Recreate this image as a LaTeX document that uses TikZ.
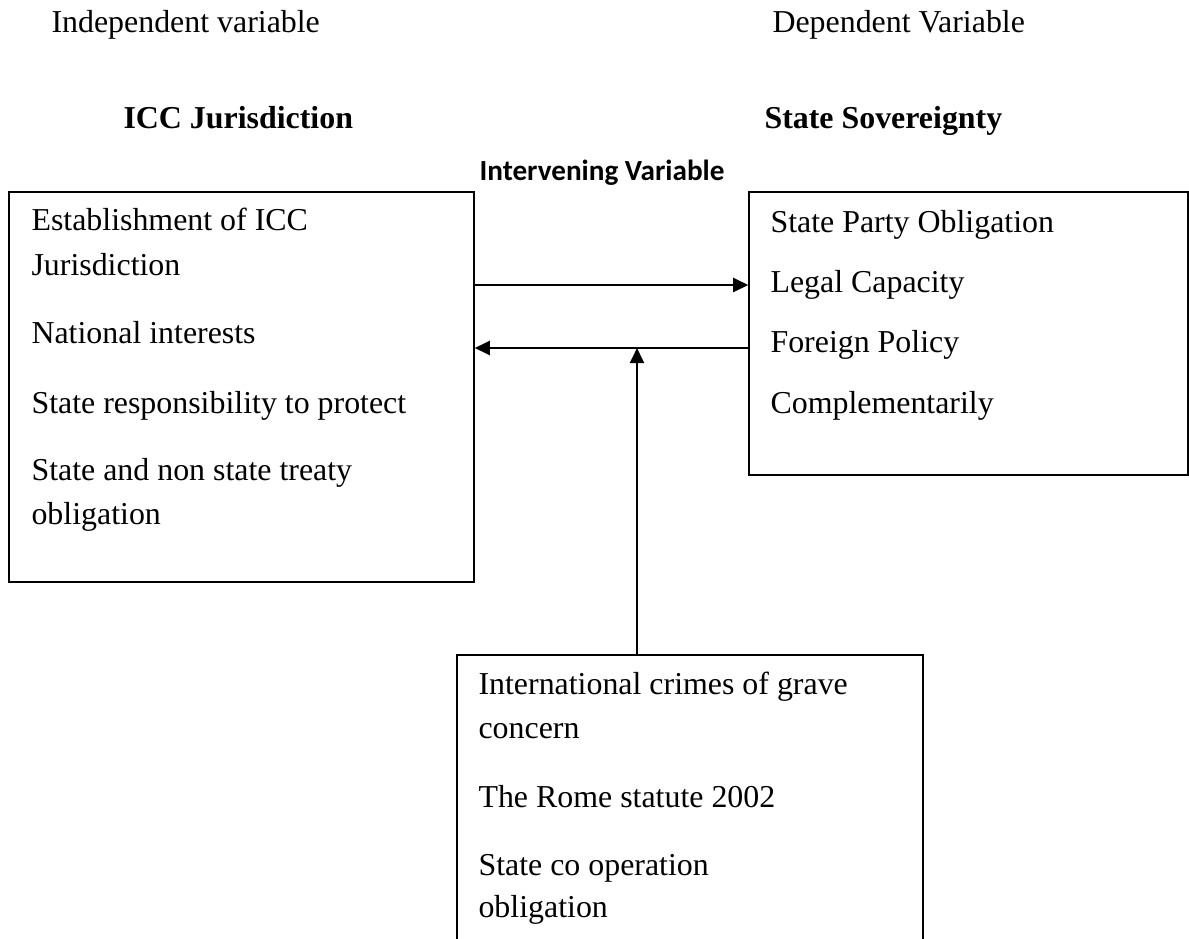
\documentclass[tikz,border=0pt]{standalone}
\usepackage{fontspec}
\setmainfont{Liberation Serif}
\newfontfamily\calibri{Carlito}
\usetikzlibrary{arrows.meta,fit}
\begin{document}
\begin{tikzpicture}[x=0.37pt,y=-0.37pt,
  txt/.style={anchor=base west,inner sep=0pt,font=\fontsize{11.8}{14}\selectfont},
  head/.style={txt,font=\fontsize{11.8}{14}\selectfont\bfseries},
  ivlabel/.style={anchor=base west,inner sep=0pt,font=\calibri\fontsize{10.8}{13}\selectfont\bfseries},
  boxst/.style={draw,line width=0.55pt,inner sep=0pt},
  arr/.style={line width=0.8pt,-{Triangle[length=5.6pt,width=5.2pt]}}]
\clip (0,0) rectangle (1189,938);
\fill[white] (0,0) rectangle (1189,938);
% headings
\node[txt] (iv) at (51,32) {Independent variable};
\node[txt] (dv) at (772,32) {Dependent Variable};
\node[head] (icc) at (123,128) {ICC Jurisdiction};
\node[head] (ss) at (764,128) {State Sovereignty};
\node[ivlabel] (inv) at (479,180) {Intervening Variable};
% boxes
\node[boxst,fit={(9,192) (474,582)}] (L) {};
\node[boxst,fit={(749,192) (1188,475)}] (R) {};
\node[boxst,fit={(457,655) (923,960)}] (B) {};
% left box text
\node[txt] (l1) at (31,230) {Establishment of ICC};
\node[txt] (l2) at (31,275) {Jurisdiction};
\node[txt] (l3) at (31,343) {National interests};
\node[txt] (l4) at (31,413) {State responsibility to protect};
\node[txt] (l5) at (31,480) {State and non state treaty};
\node[txt] (l6) at (31,524) {obligation};
% right box text
\node[txt] (r1) at (770,232) {State Party Obligation};
\node[txt] (r2) at (770,292) {Legal Capacity};
\node[txt] (r3) at (770,352) {Foreign Policy};
\node[txt] (r4) at (770,413) {Complementarily};
% bottom box text
\node[txt] (b1) at (478,694) {International crimes of grave};
\node[txt] (b2) at (478,738) {concern};
\node[txt] (b3) at (478,807) {The Rome statute 2002};
\node[txt] (b4) at (478,875) {State co operation};
\node[txt] (b5) at (478,917) {obligation};
% connectors
\coordinate (ya) at (0,285);
\coordinate (yb) at (0,348);
\coordinate (v) at (637,348);
\draw[arr] (L.east |- ya) -- (R.west |- ya);
\draw[arr] (R.west |- yb) -- (L.east |- yb);
\draw[arr] (B.north -| v) -- (v);
\end{tikzpicture}
\end{document}
